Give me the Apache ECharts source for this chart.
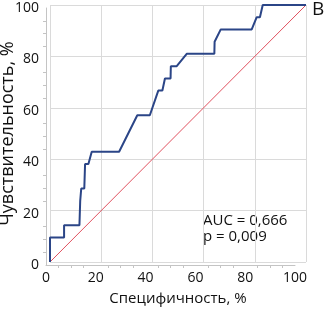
<!DOCTYPE html>
<html>
<head>
<meta charset="utf-8">
<script src="https://cdn.jsdelivr.net/npm/echarts@6/dist/echarts.min.js"></script>
<style>
  html, body { margin: 0; padding: 0; background: #fff; }
  #chart { width: 324px; height: 309px; }
</style>
</head>
<body>
<div id="chart"></div>
<script>
// ROC curve points (x = "specificity" axis as drawn, y = sensitivity), %
let rocX = [0, 0, 5.5, 5.5, 11.5, 11.8, 12.2, 13.4, 13.7, 15, 16.3, 27, 34.1, 39, 42.3, 43.9, 44.9, 47.1, 47.2, 49.5, 53.4, 64.2, 64.3, 66.7, 78.8, 80.7, 82, 83.1, 100];
let rocY = [0, 9.5, 9.5, 14.3, 14.3, 23.8, 28.6, 28.6, 38.1, 38.1, 42.9, 42.9, 57.1, 57.1, 66.7, 66.7, 71.4, 71.4, 76.2, 76.2, 81, 81, 85.7, 90.5, 90.5, 95.2, 95.2, 100, 100];
// reference diagonal
let refX = [0, 100];
let refY = [0, 100];
let tickValues = [0, 20, 40, 60, 80, 100];
let aucText = "AUC = 0,666";
let pText = "p = 0,009";

let rocData = [];
rocX.map(function (x, i) {
  rocData.push([x, rocY[i]]);
});
let refData = [];
refX.map(function (x, i) {
  refData.push([x, refY[i]]);
});

let font = "'Open Sans', 'Noto Sans', sans-serif";
let minVal = tickValues[0];
let maxVal = tickValues[tickValues.length - 1];

// plot grid: split lines and axis names
let plotAxis = {
  type: "value",
  gridIndex: 0,
  min: minVal,
  max: maxVal,
  interval: 20,
  axisLine: { show: false },
  axisTick: { show: false },
  axisLabel: { show: false },
  splitLine: { show: true, lineStyle: { color: "#dadada", width: 1 } },
  nameLocation: "middle",
  nameMoveOverlap: false,
};
// frame grid: axis lines and tick labels (labels sit a bit off the gridlines in the original)
let frameAxis = {
  type: "value",
  gridIndex: 1,
  min: minVal,
  max: maxVal,
  interval: 20,
  axisLine: { show: true, lineStyle: { color: "#c4c4c4", width: 1 } },
  axisTick: { show: false },
  minorTick: { show: true, splitNumber: 4, length: 3, lineStyle: { color: "#c4c4c4" } },
  splitLine: { show: false },
};

let chart = echarts.init(document.getElementById("chart"));
chart.setOption({
  animation: false,
  grid: [
    { left: 50, right: 18, top: 5, bottom: 47, containLabel: false, outerBoundsMode: "none" },
    { left: 46, right: 29, top: 8, bottom: 44, containLabel: false, outerBoundsMode: "none" },
  ],
  xAxis: [
    Object.assign({}, plotAxis, {
      name: "Специфичность, %",
      nameGap: 29,
      nameTextStyle: { color: "#111", fontSize: 15, fontFamily: font },
    }),
    Object.assign({}, frameAxis, {
      axisLabel: { color: "#111", fontSize: 14, fontFamily: font, margin: 6 },
    }),
  ],
  yAxis: [
    Object.assign({}, plotAxis, {
      name: "Чувствительность, %",
      nameGap: 33,
      nameTextStyle: { color: "#111", fontSize: 18, fontFamily: font },
    }),
    Object.assign({}, frameAxis, {
      offset: 4,
      axisLabel: { color: "#111", fontSize: 14, fontFamily: font, margin: 3 },
    }),
  ],
  series: [
    {
      type: "line",
      xAxisIndex: 0,
      yAxisIndex: 0,
      data: refData,
      symbol: "none",
      lineStyle: { color: "#e0505e", width: 1 },
      z: 2,
    },
    {
      type: "line",
      xAxisIndex: 0,
      yAxisIndex: 0,
      data: rocData,
      symbol: "none",
      lineStyle: { color: "#2b4587", width: 2 },
      z: 3,
    },
  ],
  graphic: [
    {
      type: "text",
      left: 203,
      top: 213,
      style: { text: aucText + "\n" + pText, fill: "#111", font: "15px " + font, lineHeight: 16 },
    },
    {
      type: "text",
      left: 312,
      top: 0,
      style: { text: "B", fill: "#111", font: "19px " + font },
    },
  ],
});
</script>
</body>
</html>
